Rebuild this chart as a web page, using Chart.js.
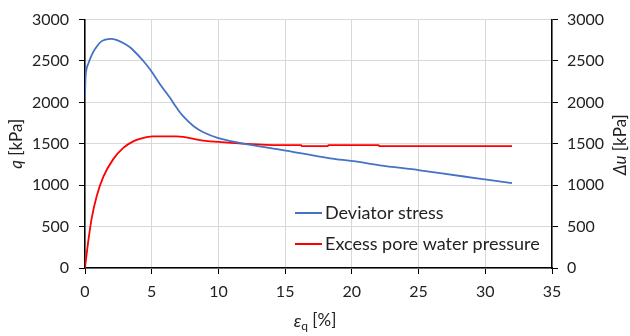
<!DOCTYPE html>
<html><head><meta charset="utf-8">
<script src="https://cdn.jsdelivr.net/npm/chart.js@4"></script>
<style>html,body{margin:0;padding:0;background:#fff}#wrap{width:630px;height:336px;position:relative}</style>
</head><body><div id="wrap"><canvas id="c"></canvas></div>
<script>
// ---- data ----
const xTickValues = [0, 5, 10, 15, 20, 25, 30, 35];
const yTickValues = [0, 500, 1000, 1500, 2000, 2500, 3000];
const seriesLabels = ['Deviator stress', 'Excess pore water pressure'];
const seriesColors = ['#4472C4', '#FF0000'];

const stressStrain = [0, 0.02, 0.05, 0.12, 0.25, 0.5, 0.75, 1.25, 1.87, 2.4, 3.1, 3.62, 4.37, 4.87, 5.62, 6.37, 6.87, 7.37, 8.12, 8.87, 10, 11.87, 14.62, 18.37, 20.1, 22.1, 25.1, 28.4, 30.1, 32.0];
const stressValues = [2050, 2200, 2324, 2410, 2470, 2570, 2645, 2740, 2768, 2752, 2695, 2630, 2500, 2400, 2220, 2055, 1935, 1830, 1715, 1640, 1569, 1502, 1431, 1324, 1290, 1240, 1180, 1105, 1067, 1026];

const pwpStrain = [0, 0.1, 0.25, 0.5, 0.88, 1.37, 2.12, 2.87, 3.62, 4.62, 5.12, 6.87, 8.87, 11.87, 14.6, 16.2, 16.25, 18.2, 18.25, 22.0, 22.05, 32.0];
const pwpValues = [0, 140, 330, 600, 870, 1100, 1315, 1450, 1530, 1580, 1589, 1589, 1538, 1502, 1484, 1484, 1472, 1472, 1484, 1484, 1472, 1472];

// ---- helpers ----
const FONT = 'Lato';
const TXT = '#222';
const toPts = (xs, ys) => xs.map((x, i) => ({x: x, y: ys[i]}));

function drawRich(ctx, parts, cx, cy, rot) {
  ctx.save();
  ctx.translate(cx, cy);
  ctx.rotate(rot);
  let w = 0;
  parts.forEach(p => { ctx.font = p.f; p.w = ctx.measureText(p.t).width; w += p.w; });
  let x = -w / 2;
  ctx.textBaseline = 'middle';
  ctx.textAlign = 'left';
  parts.forEach(p => { ctx.font = p.f; ctx.fillText(p.t, x, p.dy || 0); x += p.w; });
  ctx.restore();
}

const decorPlugin = {
  id: 'decor',
  afterDraw(chart) {
    const ctx = chart.ctx, ca = chart.chartArea;
    ctx.save();
    ctx.fillStyle = TXT;
    const midY = (ca.top + ca.bottom) / 2;
    drawRich(ctx, [{t: 'q', f: 'italic 17px ' + FONT}, {t: ' [kPa]', f: '17px ' + FONT}], 17, midY, -Math.PI / 2);
    drawRich(ctx, [{t: 'Δu', f: 'italic 17px ' + FONT}, {t: ' [kPa]', f: '17px ' + FONT}], 621, midY + 1, -Math.PI / 2);
    drawRich(ctx, [{t: 'ε', f: 'italic 18px ' + FONT}, {t: 'q', f: '12px ' + FONT, dy: 5}, {t: ' [%]', f: '17px ' + FONT}], 315, 321, 0);
    // legend
    const ds = chart.data.datasets;
    const lx0 = 295, lx1 = 322, tx = 325, ys = [213, 244];
    ds.forEach((d, i) => {
      ctx.strokeStyle = d.borderColor;
      ctx.lineWidth = 2;
      ctx.beginPath(); ctx.moveTo(lx0, ys[i]); ctx.lineTo(lx1, ys[i]); ctx.stroke();
      ctx.font = '18px ' + FONT;
      ctx.textBaseline = 'middle';
      ctx.textAlign = 'left';
      ctx.fillStyle = TXT;
      ctx.fillText(d.label, tx, ys[i]);
    });
    ctx.restore();
  }
};

const tickFont = {family: FONT, size: 16};
const plain = v => String(v);

new Chart(document.getElementById('c'), {
  type: 'scatter',
  data: {
    datasets: [
      {label: seriesLabels[0], data: toPts(stressStrain, stressValues), yAxisID: 'y', borderColor: seriesColors[0], backgroundColor: seriesColors[0], showLine: true, pointRadius: 0, borderWidth: 1.8, tension: 0.35},
      {label: seriesLabels[1], data: toPts(pwpStrain, pwpValues), yAxisID: 'y2', borderColor: seriesColors[1], backgroundColor: seriesColors[1], showLine: true, pointRadius: 0, borderWidth: 1.8, cubicInterpolationMode: 'monotone'}
    ]
  },
  options: {
    responsive: true,
    maintainAspectRatio: false,
    animation: false,
    layout: {padding: {top: 16, left: 0, right: 0, bottom: 0}},
    plugins: {legend: {display: false}, tooltip: {enabled: false}},
    scales: {
      x: {
        type: 'linear', min: 0, max: 35,
        afterBuildTicks: s => { s.ticks = xTickValues.map(v => ({value: v})); },
        afterFit: s => { s.height = 68; },
        ticks: {font: tickFont, color: TXT, padding: 8, maxRotation: 0, callback: plain},
        grid: {color: '#D9D9D9', tickColor: '#000', tickLength: 6, lineWidth: 1},
        border: {color: '#000', width: 1.5}
      },
      y: {
        type: 'linear', position: 'left', min: 0, max: 3000,
        afterBuildTicks: s => { s.ticks = yTickValues.map(v => ({value: v})); },
        afterFit: s => { s.width = 85; },
        ticks: {font: tickFont, color: TXT, padding: 10, callback: plain},
        grid: {color: '#D9D9D9', tickColor: '#000', tickLength: 6, lineWidth: 1},
        border: {color: '#000', width: 1.5}
      },
      y2: {
        type: 'linear', position: 'right', min: 0, max: 3000,
        afterBuildTicks: s => { s.ticks = yTickValues.map(v => ({value: v})); },
        afterFit: s => { s.width = 78; },
        ticks: {font: tickFont, color: TXT, padding: 9, callback: plain},
        grid: {drawOnChartArea: false, tickColor: '#000', tickLength: 6},
        border: {color: '#000', width: 1.5}
      }
    }
  },
  plugins: [decorPlugin]
});
</script>
</body></html>
